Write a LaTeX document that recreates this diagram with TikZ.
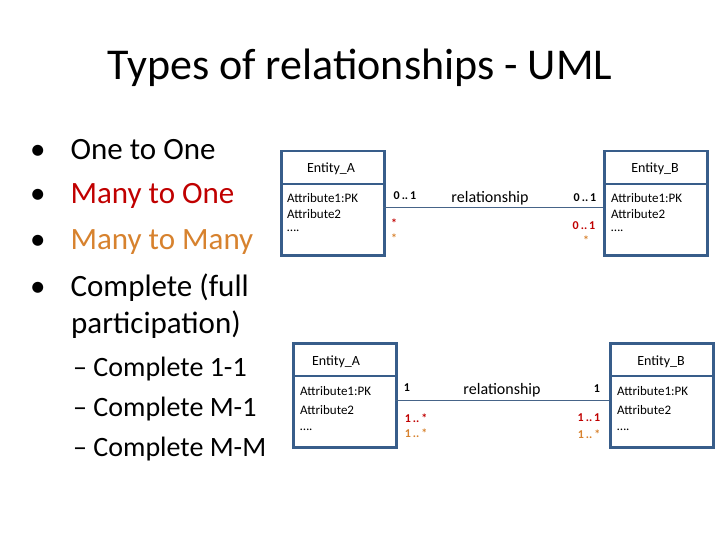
\documentclass[tikz,border=0pt]{standalone}
\usepackage{fontspec}
\setmainfont{Carlito}
\usetikzlibrary{positioning}
\definecolor{boxblue}{HTML}{385D8A}
\definecolor{manyred}{HTML}{C00000}
\definecolor{manyorange}{HTML}{D7822E}
\begin{document}
\begin{tikzpicture}[x=1pt,y=-1pt,
    entity/.style={rectangle, draw=boxblue, line width=2.5pt, minimum width=103pt, minimum height=104pt, anchor=north west, inner sep=0pt},
    attr/.style={anchor=west, font=\fontsize{13}{14}\selectfont, inner sep=0pt},
    head/.style={font=\fontsize{14}{15}\selectfont, inner sep=0pt},
    card/.style={font=\bfseries\fontsize{12}{13}\selectfont, inner sep=0pt},
    rel/.style={font=\fontsize{16}{17}\selectfont, inner sep=0pt},
    bullet/.style={anchor=west, font=\fontsize{31}{33}\selectfont, inner sep=0pt},
    sub/.style={anchor=west, font=\fontsize{28}{30}\selectfont, inner sep=0pt}
]
    \useasboundingbox (0,0) rectangle (720,540);

    % Title
    \node[font=\fontsize{44}{46}\selectfont] (title) at (360,68) {Types of relationships - UML};

    % Bullets
    \node[bullet] (b1) at (30,150) {•\hspace{25pt}One to One};
    \node[bullet, text=manyred] (b2) at (30,196) {\textcolor{black}{•}\hspace{25pt}Many to One};
    \node[bullet, text=manyorange] (b3) at (30,242) {\textcolor{black}{•}\hspace{25pt}Many to Many};
    \node[bullet] (b4) at (30,288) {•\hspace{25pt}Complete (full};
    \node[bullet] (b5) at (71,325) {participation)};
    \node[sub] (s1) at (73,369) {– Complete 1-1};
    \node[sub] (s2) at (73,409) {– Complete M-1};
    \node[sub] (s3) at (73,449) {– Complete M-M};

    % Top pair
    \node[entity] (ea1) at (280,150) {};
    \node[entity] (eb1) at (603,150) {};
    \draw[boxblue, line width=2.5pt] (280,184) -- (383,184) (603,184) -- (706,184);
    \node[head] (ha1) at (331,169) {Entity\_A};
    \node[head] (hb1) at (655,169) {Entity\_B};
    \node[attr] (a11) at (287,198) {Attribute1:PK};
    \node[attr] (a12) at (287,214) {Attribute2};
    \node[attr] (a13) at (287,231) {….};
    \node[attr] (b11) at (611,198) {Attribute1:PK};
    \node[attr] (b12) at (611,214) {Attribute2};
    \node[attr] (b13) at (611,231) {….};
    \coordinate (l1) at (383,207);
    \coordinate (r1) at (603,207);
    \draw[boxblue!80!gray] (l1) -- (r1);
    \node[rel] (rel1) at (490,198) {relationship};
    \node[card] (c1) at (405,196) {0\,..\,1};
    \node[card, text=manyred] (c2) at (394,223) {*};
    \node[card, text=manyorange] (c3) at (394,238) {*};
    \node[card] (c4) at (585,198) {0\,..\,1};
    \node[card, text=manyred] (c5) at (584,226) {0\,..\,1};
    \node[card, text=manyorange] (c6) at (586,240) {*};

    % Bottom pair
    \node[entity] (ea2) at (292,342) {};
    \node[entity] (eb2) at (609,342) {};
    \draw[boxblue, line width=2.5pt] (292,376) -- (395,376) (609,376) -- (712,376);
    \node[head] (ha2) at (336,362) {Entity\_A};
    \node[head] (hb2) at (661,362) {Entity\_B};
    \node[attr] (a21) at (300,391) {Attribute1:PK};
    \node[attr] (a22) at (300,410) {Attribute2};
    \node[attr] (a23) at (300,430) {….};
    \node[attr] (b21) at (617,391) {Attribute1:PK};
    \node[attr] (b22) at (617,410) {Attribute2};
    \node[attr] (b23) at (617,430) {….};
    \coordinate (l2) at (395,400);
    \coordinate (r2) at (609,400);
    \draw[boxblue!80!gray] (l2) -- (r2);
    \node[rel] (rel2) at (502,390) {relationship};
    \node[card] (d1) at (407,388) {1};
    \node[card, text=manyred] (d2) at (416,418) {1\,..\,*};
    \node[card, text=manyorange] (d3) at (416,433) {1\,..\,*};
    \node[card] (d4) at (597,389) {1};
    \node[card, text=manyred] (d5) at (589,418) {1\,..\,1};
    \node[card, text=manyorange] (d6) at (589,434) {1\,..\,*};

\end{tikzpicture}
\end{document}
